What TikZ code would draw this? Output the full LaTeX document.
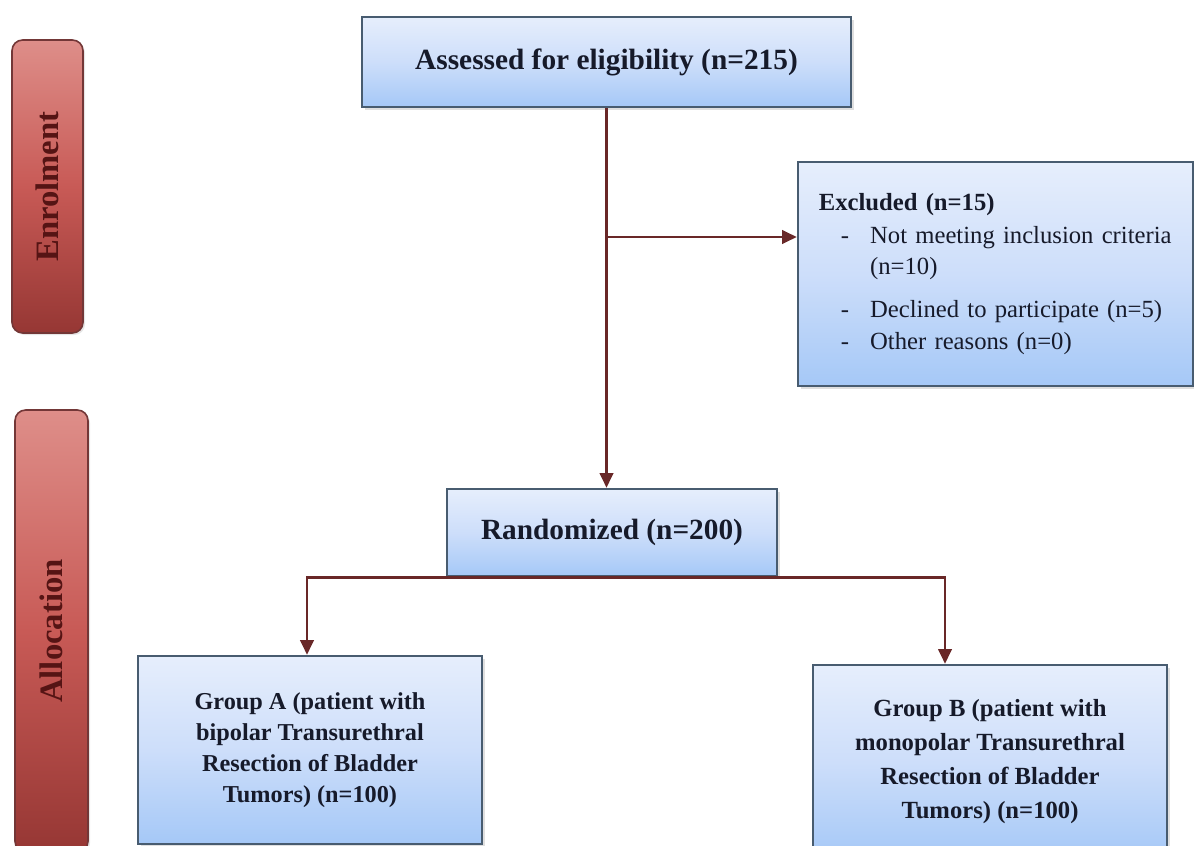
\documentclass[tikz,border=0pt]{standalone}
\usepackage{fontspec}
\setmainfont{Liberation Serif}
\usetikzlibrary{arrows.meta,shadows}
\definecolor{boxtop}{RGB}{230,238,252}
\definecolor{boxmid}{RGB}{205,222,250}
\definecolor{boxbot}{RGB}{165,200,247}
\definecolor{boxline}{RGB}{72,92,112}
\definecolor{arrowc}{RGB}{105,40,40}
\definecolor{bartop}{RGB}{222,142,137}
\definecolor{barmid}{RGB}{200,90,86}
\definecolor{barbot}{RGB}{150,55,52}
\definecolor{barline}{RGB}{115,55,55}
\definecolor{bartext}{RGB}{85,20,20}
\definecolor{txt}{RGB}{22,26,42}
\newcommand\exitem[1]{\mbox{\hspace*{24pt}\makebox[22pt][l]{-}#1}}
\begin{document}
\begin{tikzpicture}[x=0.75pt,y=-0.75pt,
  bluebox/.style={draw=boxline, line width=1.8pt, top color=boxtop, bottom color=boxbot, middle color=boxmid,
    text=txt, align=center, inner sep=0pt,
    drop shadow={opacity=0.25, shadow xshift=2pt, shadow yshift=-2pt}},
  phasebar/.style={draw=barline, line width=1.2pt, rounded corners=8pt, top color=bartop, bottom color=barbot,
    middle color=barmid, text=bartext, font=\fontsize{24.5}{28}\selectfont\bfseries, inner sep=0pt,
    drop shadow={opacity=0.2, shadow xshift=1.5pt, shadow yshift=-1.5pt}},
  arr/.style={draw=arrowc, line width=2pt, -{Triangle[length=11pt,width=10pt]}},
  mainfont/.style={font=\fontsize{22}{26}\selectfont\bfseries},
]
\useasboundingbox (0,0) rectangle (1194,845);

% phase bars
\node[phasebar, minimum width=53.25pt, minimum height=219.75pt] (enrol) at (47.5,186.5) {\rotatebox{90}{Enrolment}};
\node[phasebar, minimum width=54.75pt, minimum height=331.5pt] (alloc) at (51.5,631) {\rotatebox{90}{Allocation}};

% boxes
\node[bluebox, mainfont, minimum width=366.75pt, minimum height=67.5pt] (ass) at (606.5,62) {Assessed for eligibility (n=215)};
\node[bluebox, minimum width=296.25pt, minimum height=168pt, text width=280pt, inner xsep=8.1pt, align=left,
  font=\fontsize{18.5}{23}\selectfont] (excl) at (995.5,274)
  {\mbox{\hspace*{7.5pt}\textbf{Excluded (n=15)}}\\[2pt]
   \exitem{Not meeting inclusion criteria}\\
   \mbox{\hspace*{46pt}(n=10)}\\[9pt]
   \exitem{Declined to participate (n=5)}\\[1pt]
   \exitem{Other reasons (n=0)}};
\node[bluebox, mainfont, minimum width=247.5pt, minimum height=65.25pt] (rand) at (612,532.5) {Randomized (n=200)};
\node[bluebox, minimum width=258pt, minimum height=141pt, font=\fontsize{18.2}{23.25}\selectfont\bfseries] (ga) at (310,750)
  {Group A (patient with\\bipolar Transurethral\\Resection of Bladder\\Tumors) (n=100)};
\node[bluebox, minimum width=265.5pt, minimum height=145.5pt, font=\fontsize{18.5}{25.5}\selectfont\bfseries] (gb) at (990,762)
  {Group B (patient with\\monopolar Transurethral\\Resection of Bladder\\Tumors) (n=100)};

% connectors
\coordinate (br) at (606.5,237);
\coordinate (ax) at (307,0);
\coordinate (bx) at (945,0);
\draw[arr] (ass.south) -- (ass.south |- rand.north);
\draw[arr] (br) -- (br -| excl.west);
\draw[arr] (rand.south) -| (ga.north -| ax);
\draw[arr] (rand.south) -| (gb.north -| bx);
\end{tikzpicture}
\end{document}
